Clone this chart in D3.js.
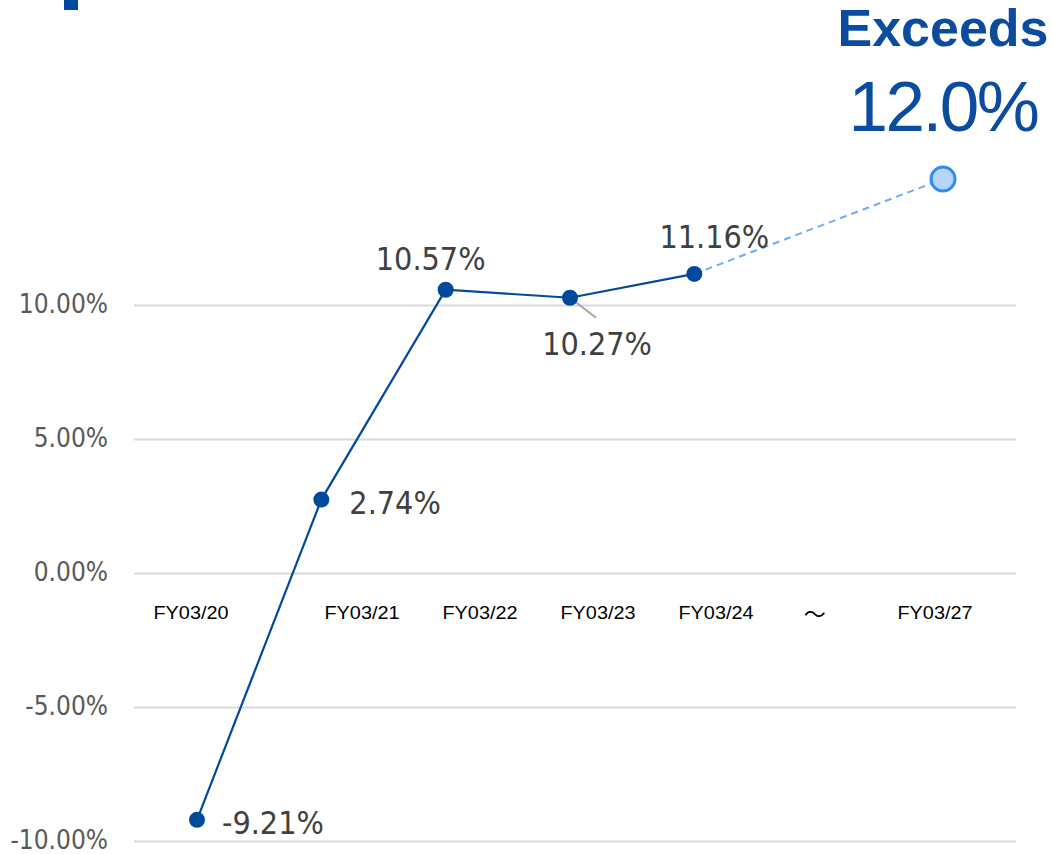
<!DOCTYPE html>
<html>
<head>
<meta charset="utf-8">
<script src="https://cdn.jsdelivr.net/npm/d3@7"></script>
<style>
  html, body { margin: 0; padding: 0; background: #fff; }
  svg { display: block; }
</style>
</head>
<body>
<svg id="chart" width="1052" height="854"></svg>
<script>
// ROE by fiscal year, with the FY03/27 target
const slots = ["FY03/20", "FY03/21", "FY03/22", "FY03/23", "FY03/24", "~", "FY03/27"];
const actualYears = ["FY03/20", "FY03/21", "FY03/22", "FY03/23", "FY03/24"];
const actualValues = [-9.21, 2.74, 10.57, 10.27, 11.16];
const targetYear = "FY03/27";
const targetValue = 14.7;          // plotted target point
const targetHeadline = "Exceeds";
const targetLabel = "12.0%";
const categoryLabels = ["FY03/20", "FY03/21", "FY03/22", "FY03/23", "FY03/24", "～", "FY03/27"];
const yTicks = [-10, -5, 0, 5, 10];

const svg = d3.select("#chart");
const BLUE = "#004A9D";
const TEXT_BLUE = "#0B4C9F";

// scales
const x = d3.scalePoint().domain(slots).range([197, 943]);
const y = d3.scaleLinear().domain([-10, 10]).range([841, 305]);

// fragment of the page heading above the chart
svg.append("rect").attr("x", 64).attr("y", 0).attr("width", 14).attr("height", 10).attr("fill", BLUE);

// horizontal gridlines + y labels (plain hyphen for negatives)
const pct = d => d.toFixed(2) + "%";
const yAxis = d3.axisLeft(y).tickValues(yTicks).tickSize(-(1016 - 134))
  .tickFormat(pct).tickPadding(26);
const gy = svg.append("g").attr("transform", "translate(134,0)").call(yAxis);
gy.select(".domain").remove();
gy.selectAll(".tick line").attr("stroke", "#D9D9D9").attr("stroke-width", 2);
gy.selectAll(".tick text")
  .attr("fill", "#595959")
  .style("font-family", "'DejaVu Sans Condensed', 'DejaVu Sans', sans-serif")
  .style("font-stretch", "condensed")
  .style("font-size", "26px")
  .attr("dy", "0.3em");

// category label row: the four actual years share an even row,
// the first label, the gap mark and the target label sit under their slots
const labelRow = d3.scalePoint().domain(categoryLabels.slice(1, 5)).range([362, 716]);
const labelX = (d, i) => {
  if (i === 0) return x(slots[0]) - 6;
  if (i === 5) return x(slots[5]) - 4;
  if (i === 6) return x(slots[6]) - 8;
  return labelRow(d);
};
svg.append("g").selectAll("text").data(categoryLabels).join("text")
  .attr("x", labelX)
  .attr("y", d => d === "～" ? 622 : 619)
  .attr("text-anchor", "middle")
  .attr("fill", "#000")
  .style("font-family", d => d === "～" ? "'Noto Sans CJK JP', sans-serif" : "'Liberation Sans', Arial, sans-serif")
  .style("font-size", d => d === "～" ? "22px" : "17.5px")
  .each(function (d) {
    if (d !== "～") d3.select(this).attr("textLength", 75).attr("lengthAdjust", "spacingAndGlyphs");
  })
  .text(d => d);

// dashed projection from the latest actual to the target
const lastYear = actualYears[actualYears.length - 1];
const lastVal = actualValues[actualValues.length - 1];
svg.append("line")
  .attr("x1", x(lastYear)).attr("y1", y(lastVal))
  .attr("x2", x(targetYear)).attr("y2", y(targetValue))
  .attr("stroke", "#6AAEF6").attr("stroke-width", 2).attr("stroke-dasharray", "7,5");

// actual line
const pts = actualYears.map((c, i) => ({ c, v: actualValues[i] }));
svg.append("path").datum(pts)
  .attr("d", d3.line().x(d => x(d.c)).y(d => y(d.v)))
  .attr("fill", "none").attr("stroke", BLUE).attr("stroke-width", 2.2);

// leader line for the FY03/23 label
const p23 = pts[3];
svg.append("line")
  .attr("x1", x(p23.c)).attr("y1", y(p23.v))
  .attr("x2", x(p23.c) + 26).attr("y2", y(p23.v) + 20)
  .attr("stroke", "#A6A6A6").attr("stroke-width", 2);

svg.append("g").selectAll("circle").data(pts).join("circle")
  .attr("cx", d => x(d.c)).attr("cy", d => y(d.v)).attr("r", 8)
  .attr("fill", BLUE);

// target marker
svg.append("circle")
  .attr("cx", x(targetYear)).attr("cy", y(targetValue)).attr("r", 12)
  .attr("fill", "#B6D6FD").attr("stroke", "#2F8CF4").attr("stroke-width", 3);

// value labels
const labelPlace = {
  "FY03/20": { dx: 25, dy: 14, anchor: "start" },
  "FY03/21": { dx: 28, dy: 14, anchor: "start" },
  "FY03/22": { dx: -15, dy: -20, anchor: "middle" },
  "FY03/23": { dx: 27, dy: 57, anchor: "middle" },
  "FY03/24": { dx: 20, dy: -26, anchor: "middle" }
};
svg.append("g").selectAll("text").data(pts).join("text")
  .attr("x", d => x(d.c) + labelPlace[d.c].dx)
  .attr("y", d => y(d.v) + labelPlace[d.c].dy)
  .attr("text-anchor", d => labelPlace[d.c].anchor)
  .attr("fill", "#404040")
  .style("font-family", "'DejaVu Sans Condensed', 'DejaVu Sans', sans-serif")
  .style("font-stretch", "condensed")
  .style("font-size", "32px")
  .text(d => pct(d.v));

// target callout
svg.append("text")
  .attr("x", x(targetYear)).attr("y", 46)
  .attr("text-anchor", "middle").attr("fill", TEXT_BLUE)
  .style("font-family", "'Liberation Sans', Arial, sans-serif")
  .style("font-weight", "bold").style("font-size", "52px")
  .text(targetHeadline);
svg.append("text")
  .attr("x", x(targetYear)).attr("y", 131)
  .attr("text-anchor", "middle").attr("fill", TEXT_BLUE)
  .style("font-family", "'Liberation Sans', Arial, sans-serif")
  .style("font-size", "71px").style("letter-spacing", "-2.5px")
  .text(targetLabel);
</script>
</body>
</html>
